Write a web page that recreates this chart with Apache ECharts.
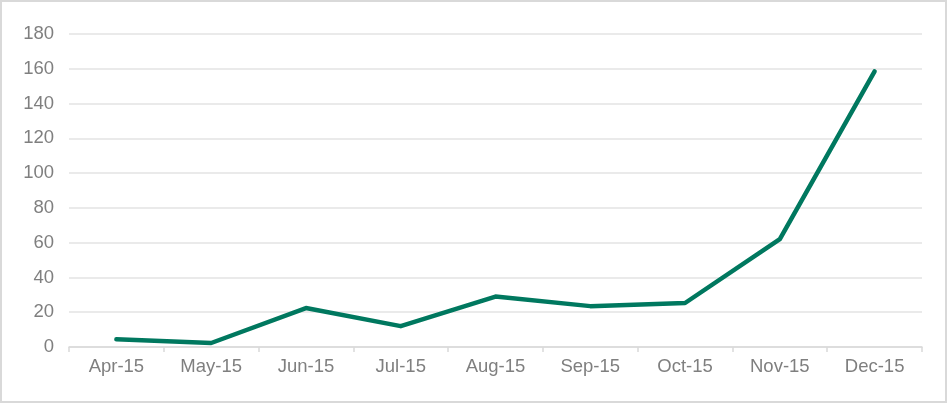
<!DOCTYPE html>
<html><head><meta charset="utf-8">
<script src="https://cdn.jsdelivr.net/npm/echarts@6/dist/echarts.min.js"></script>
<style>
html,body{margin:0;padding:0;background:#fff;}
#wrap{position:absolute;left:0px;top:0px;width:943px;height:399px;border:2px solid #d9d9d9;box-sizing:content-box;background:#fff;}
#c{width:943px;height:399px;}
</style></head>
<body><div id="wrap"><div id="c"></div></div>
<script>
const categories = ['Apr-15','May-15','Jun-15','Jul-15','Aug-15','Sep-15','Oct-15','Nov-15','Dec-15'];
const values = [4.4, 2.3, 22.4, 12, 29, 23.5, 25.3, 62, 158.5];
const yTicks = {min: 0, max: 180, interval: 20};

const chart = echarts.init(document.getElementById('c'), null, {renderer: 'canvas'});
chart.setOption({
  animation: false,
  grid: {left: 67, right: 23, top: 32, bottom: 54},
  xAxis: {
    type: 'category',
    data: categories,
    boundaryGap: true,
    axisLine: {show: true, lineStyle: {color: '#d9d9d9', width: 1.5}},
    axisTick: {show: true, length: 5, lineStyle: {color: '#d9d9d9', width: 1.5}},
    axisLabel: {color: '#7f7f7f', fontSize: 18.5, fontFamily: 'Liberation Sans, Arial, sans-serif', margin: 10}
  },
  yAxis: {
    type: 'value',
    min: yTicks.min, max: yTicks.max, interval: yTicks.interval,
    axisLine: {show: false},
    axisTick: {show: false},
    splitLine: {lineStyle: {color: '#e3e3e3', width: 1.5}},
    axisLabel: {color: '#7f7f7f', fontSize: 18.5, fontFamily: 'Liberation Sans, Arial, sans-serif', margin: 15}
  },
  series: [{
    type: 'line',
    data: values,
    symbol: 'none',
    lineStyle: {color: '#00785f', width: 4.5, cap: 'round', join: 'round'}
  }]
});
</script></body></html>
